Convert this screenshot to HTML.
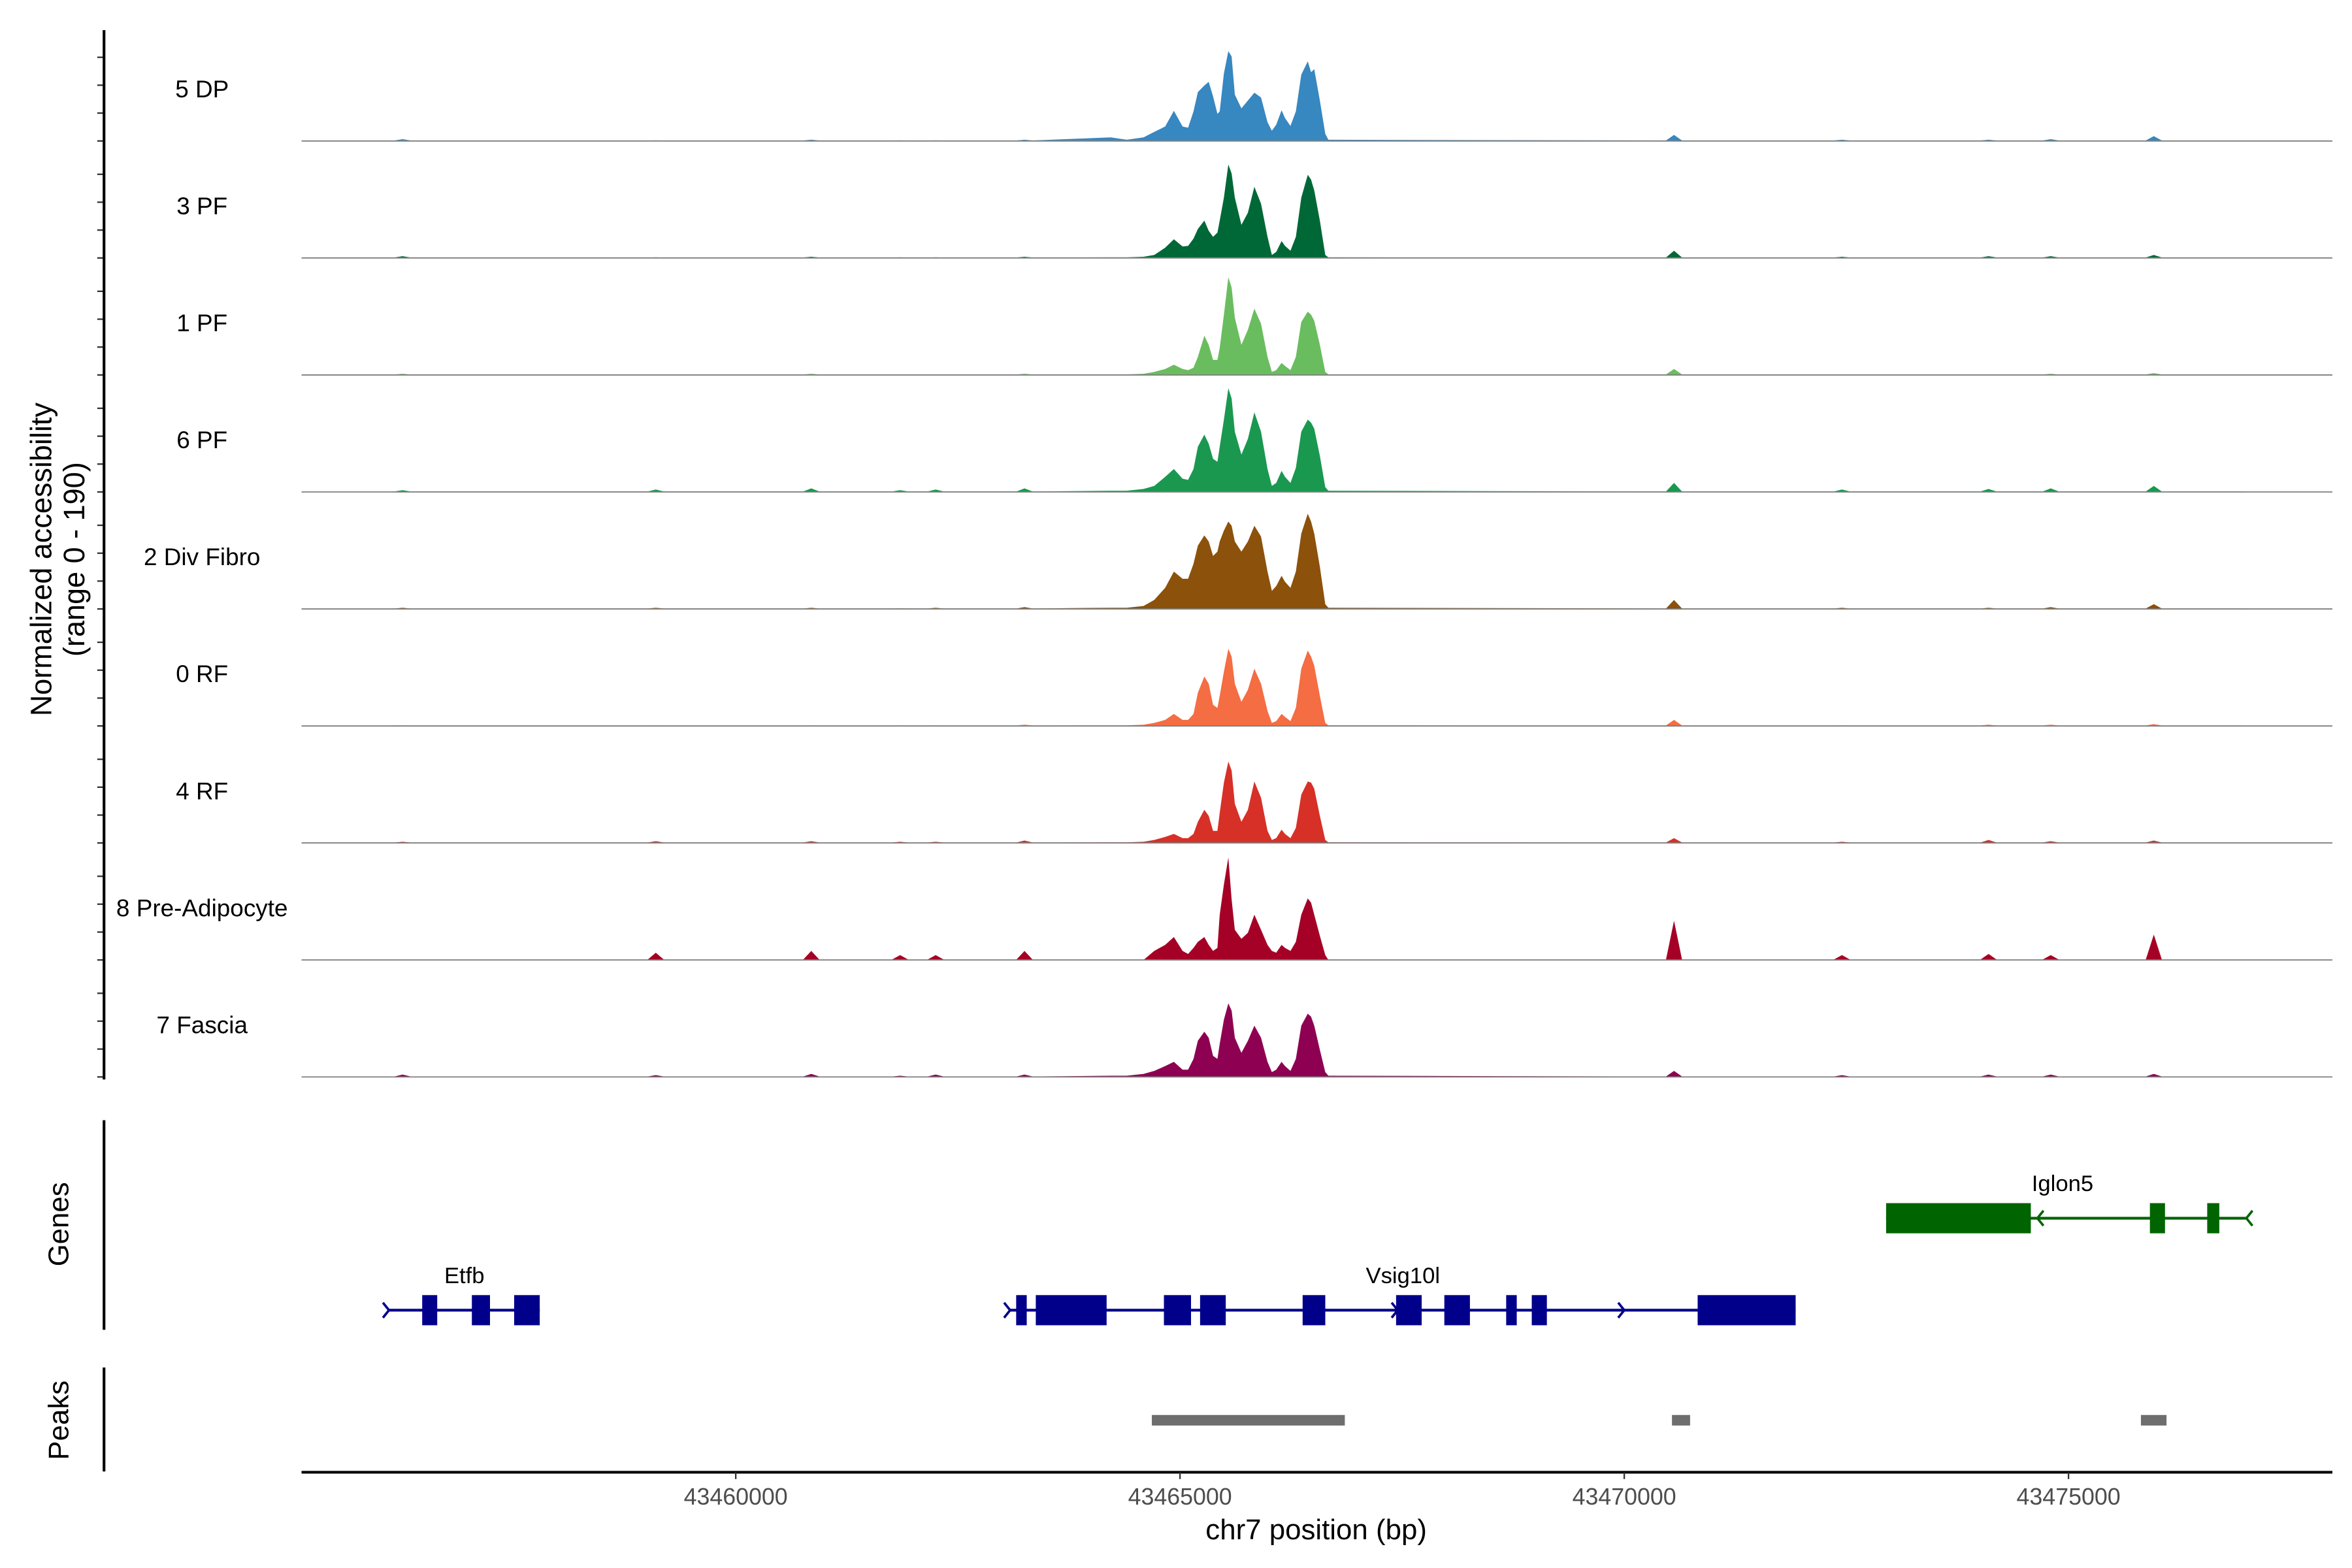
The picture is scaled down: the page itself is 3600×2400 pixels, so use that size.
<!DOCTYPE html>
<html><head><meta charset="utf-8"><style>
html,body{margin:0;padding:0;background:#fff;}
svg{display:block;font-family:"Liberation Sans",Arial,sans-serif;}
</style></head><body>
<svg id="chart" width="3600" height="2400" viewBox="0 0 1560 1040" xmlns="http://www.w3.org/2000/svg">
<rect x="0" y="0" width="1560" height="1040" fill="#fff"/>
<g id="tracks"></g>
<g id="genes"></g>
<g id="peaks"></g>
<g id="axes"></g>
<text x="34" y="371" transform="rotate(-90 34 371)" text-anchor="middle" font-size="19.5" fill="#000">Normalized accessibility</text>
<text x="56" y="371" transform="rotate(-90 56 371)" text-anchor="middle" font-size="19.5" fill="#000">(range 0 - 190)</text>
<text x="39" y="812" transform="rotate(-90 39 812)" text-anchor="middle" dominant-baseline="central" font-size="19" fill="#000">Genes</text>
<text x="39" y="942" transform="rotate(-90 39 942)" text-anchor="middle" dominant-baseline="central" font-size="19" fill="#000">Peaks</text>
<text x="873" y="1021" text-anchor="middle" font-size="19" fill="#000">chr7 position (bp)</text>
</svg>
<script>
const trackNames = ["5 DP","3 PF","1 PF","6 PF","2 Div Fibro","0 RF","4 RF","8 Pre-Adipocyte","7 Fascia"];
const trackColors = ["#3787C0","#006837","#6ABD5F","#1A9850","#8C510A","#F46D43","#D73027","#A50026","#8E0152"];
const corePos = [43464220,43464400,43464590,43464710,43464833,43464931,43465029,43465091,43465152,43465201,43465274,43465323,43465372,43465421,43465447,43465494,43465544,43465581,43465617,43465691,43465764,43465837,43465912,43465985,43466034,43466083,43466143,43466182,43466243,43466304,43466365,43466438,43466475,43466511,43466574,43466635,43466670];
const valsDP   = [6,2,6,15,24,50,24,22,49,81,92,98,74,45,49,112,149,140,77,54,67,80,72,31,17,27,51,38,25,49,110,132,114,119,67,12,2];
const valsPF3  = [1,1,2,5,17,31,19,20,32,48,62,45,35,42,62,100,155,140,100,55,75,118,90,35,5,10,28,20,12,35,100,138,130,112,62,5,1];
const valsPF1  = [1,1,2,5,10,17,10,8,12,30,65,50,25,25,45,100,162,145,95,50,75,110,85,30,5,8,20,15,8,30,88,105,100,90,50,5,1];
const valsPF6  = [2,2,5,10,25,38,22,20,38,75,95,80,55,50,75,120,172,155,100,62,88,132,100,38,10,15,35,25,15,40,100,120,115,105,60,8,2];
const valsDiv  = [2,2,5,15,35,62,50,50,75,105,122,112,88,95,112,130,145,138,112,95,112,138,120,62,30,38,55,45,35,62,125,158,145,125,70,8,2];
const valsRF0  = [1,1,2,5,10,20,10,10,20,55,82,70,35,30,50,90,128,115,70,40,60,95,70,25,5,8,20,15,8,30,95,125,115,100,50,5,1];
const valsRF4  = [1,1,2,5,10,15,8,8,15,35,55,45,20,20,50,100,135,120,65,35,55,102,75,20,5,8,22,15,8,25,80,102,100,90,45,5,1];
const valsPre  = [0,0,0,15,25,38,15,10,20,30,38,25,15,20,75,125,170,100,50,35,45,75,50,25,15,12,25,20,15,30,75,102,95,75,40,8,0];
const valsFas  = [2,2,5,10,18,25,12,12,30,60,75,65,35,30,55,95,122,110,65,40,60,85,65,25,8,12,25,18,10,30,85,105,100,85,45,8,2];
const bgPos = [43456250,43459100,43460850,43461850,43462250,43463250,43470560,43472450,43474100,43474800,43475960];
const bgDP  = [3,1,2,1,1,2,10,2,2,3,8];
const bgPF3 = [3,1,2,1,1,2,12,2,3,3,5];
const bgPF1 = [2,1,2,1,1,2,10,1,1,2,3];
const bgPF6 = [3,4,6,3,4,6,15,4,5,6,10];
const bgDiv = [2,2,2,1,2,3,15,2,2,3,8];
const bgRF0 = [1,1,1,1,1,2,10,1,2,2,3];
const bgRF4 = [2,3,3,2,2,4,8,2,5,3,4];
const bgPre = [0,12,15,8,8,15,65,8,10,8,42];
const bgFas = [4,3,5,2,4,4,10,3,4,4,5];
const coreVals = [valsDP,valsPF3,valsPF1,valsPF6,valsDiv,valsRF0,valsRF4,valsPre,valsFas];
const bgVals = [bgDP,bgPF3,bgPF1,bgPF6,bgDiv,bgRF0,bgRF4,bgPre,bgFas];
const dataRange = [43456130,43476970];
const xTicks = [43460000,43465000,43470000,43475000];
const geneNames = ["Etfb","Vsig10l","Iglon5"];
const geneStarts = [43456097,43463088,43472947];
const geneEnds = [43457794,43471929,43477002];
const geneStrand = [1,1,-1];
const geneColors = ["#00008B","#00008B","#006400"];
const geneRows = [1,1,0];
const exonGene = [0,0,0,1,1,1,1,1,1,1,1,1,1,2,2,2];
const exonStarts = [43456471,43457030,43457506,43463156,43463377,43464819,43465226,43466380,43467432,43467975,43468671,43468959,43470826,43472947,43475916,43476561];
const exonEnds   = [43456640,43457234,43457794,43463275,43464174,43465124,43465515,43466635,43467720,43468263,43468790,43469129,43471929,43474576,43476086,43476697];
const arrowPos = [43456097,43463088,43466480,43467450,43470000,43474650,43477002];
const arrowGene = [0,1,1,1,1,2,2];
const peakStarts = [43464683,43470537,43475815];
const peakEnds = [43466855,43470741,43476103];

const NS = "http://www.w3.org/2000/svg";
const X0 = 200, X1 = 1547, D0 = 43455113, D1 = 43477970;
function xs(bp){ return X0 + (bp - D0) * (X1 - X0) / (D1 - D0); }
const base0 = 93.5, trackStep = 77.6, pxPerUnit = 0.4;
function baseY(i){ return base0 + i * trackStep; }
function ys(i, v){ return baseY(i) - v * pxPerUnit; }
function mk(tag, attrs, parent){ const e = document.createElementNS(NS, tag); for (const k in attrs) e.setAttribute(k, attrs[k]); parent.appendChild(e); return e; }

const gT = document.getElementById("tracks");
const gA = document.getElementById("axes");
for (let i = 0; i < trackNames.length; i++){
  let pts = [[dataRange[0], 0.8],[dataRange[1], 0.8]];
  corePos.forEach((p, k) => pts.push([p, coreVals[i][k]]));
  bgPos.forEach((p, k) => { pts.push([p-90, 0.8]); pts.push([p, bgVals[i][k]]); pts.push([p+90, 0.8]); });
  pts.sort((a,b) => a[0]-b[0]);
  let d = "M" + xs(dataRange[0]).toFixed(2) + "," + baseY(i);
  pts.forEach(p => { d += " L" + xs(p[0]).toFixed(2) + "," + ys(i, p[1]).toFixed(2); });
  d += " L" + xs(dataRange[1]).toFixed(2) + "," + baseY(i) + " Z";
  const area = mk("path", {d: d, fill: trackColors[i], stroke: "none"}, gT);
  
  
  const bl = mk("line", {x1: 200, x2: 1547, y1: baseY(i), y2: baseY(i), stroke: "#7f7f7f", "stroke-width": 0.8}, gT);
  
  
  const lb = mk("text", {x: 134, y: baseY(i) - 29, "text-anchor": "middle", "font-size": 16, fill: "#000"}, gT);
  lb.textContent = trackNames[i];
  
  
  for (let t = 0; t < 4; t++){
    const ty = baseY(i) - t * 18.5;
    const tk = mk("line", {x1: 64.5, x2: 69, y1: ty, y2: ty, stroke: "#333", "stroke-width": 1}, gA);
    
    
  }
}
const yAx = mk("line", {x1: 69, x2: 69, y1: 20, y2: 716, stroke: "#000", "stroke-width": 1.8}, gA);


const gAx = mk("line", {x1: 69, x2: 69, y1: 743, y2: 882, stroke: "#000", "stroke-width": 1.8}, gA);


const pAx = mk("line", {x1: 69, x2: 69, y1: 907, y2: 976, stroke: "#000", "stroke-width": 1.8}, gA);


const xAx = mk("line", {x1: 200, x2: 1547, y1: 976.5, y2: 976.5, stroke: "#000", "stroke-width": 1.8}, gA);


xTicks.forEach(t => {
  const tk = mk("line", {x1: xs(t), x2: xs(t), y1: 976.5, y2: 981, stroke: "#333", "stroke-width": 1}, gA);
  
  
  const tl = mk("text", {x: xs(t), y: 998, "text-anchor": "middle", "font-size": 15.5, fill: "#4d4d4d"}, gA);
  tl.textContent = String(t);
  
  
});

const gG = document.getElementById("genes");
const rowY = [808, 869];
for (let g = 0; g < geneNames.length; g++){
  const y = rowY[geneRows[g]];
  const ln = mk("line", {x1: xs(geneStarts[g]), x2: xs(geneEnds[g]), y1: y, y2: y, stroke: geneColors[g], "stroke-width": 1.8}, gG);
  
  
  const lab = mk("text", {x: (xs(geneStarts[g]) + xs(geneEnds[g]))/2, y: y - 18, "text-anchor": "middle", "font-size": 15, fill: "#000"}, gG);
  if (g === 2) lab.setAttribute("x", 1368);
  lab.textContent = geneNames[g];
  
  
}
for (let e = 0; e < exonStarts.length; e++){
  const g = exonGene[e]; const y = rowY[geneRows[g]];
  const r = mk("rect", {x: xs(exonStarts[e]), y: y - 10, width: xs(exonEnds[e]) - xs(exonStarts[e]), height: 20, fill: geneColors[g]}, gG);
  
  
}
for (let a = 0; a < arrowPos.length; a++){
  const g = arrowGene[a]; const y = rowY[geneRows[g]]; const x = xs(arrowPos[a]); const s = geneStrand[g];
  const p = mk("path", {d: "M" + (x - 4*s) + "," + (y - 5) + " L" + x + "," + y + " L" + (x - 4*s) + "," + (y + 5), fill: "none", stroke: geneColors[g], "stroke-width": 1.6}, gG);
  
  
}
const gP = document.getElementById("peaks");
for (let k = 0; k < peakStarts.length; k++){
  const r = mk("rect", {x: xs(peakStarts[k]), y: 938.5, width: xs(peakEnds[k]) - xs(peakStarts[k]), height: 7, fill: "#6e6e6e"}, gP);
  
  
}
</script>
</body></html>
